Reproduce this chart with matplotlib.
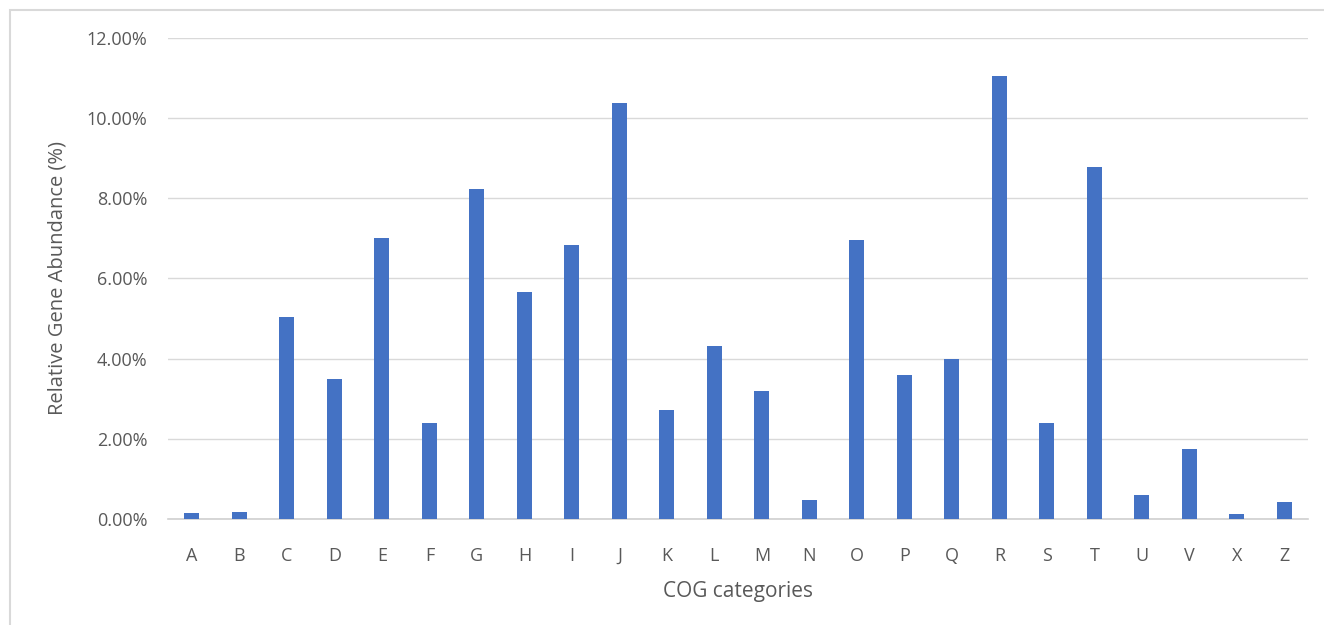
import numpy as np
import matplotlib.pyplot as plt
from matplotlib.patches import Rectangle
from matplotlib.ticker import FuncFormatter

categories = ['A', 'B', 'C', 'D', 'E', 'F', 'G', 'H', 'I', 'J', 'K', 'L',
              'M', 'N', 'O', 'P', 'Q', 'R', 'S', 'T', 'U', 'V', 'X', 'Z']
abundance = [0.15, 0.18, 5.04, 3.49, 7.01, 2.40, 8.23, 5.66, 6.84, 10.38, 2.72, 4.32,
             3.19, 0.47, 6.96, 3.59, 3.99, 11.06, 2.40, 8.78, 0.60, 1.75, 0.13, 0.41]
yticks = [0, 2, 4, 6, 8, 10, 12]

plt.rcParams['font.family'] = ['Open Sans', 'DejaVu Sans']

fig = plt.figure(figsize=(13.24, 6.25), dpi=100)
ax = fig.add_axes([0.127, 0.170, 0.861, 0.769])

x = np.arange(len(categories))
ax.bar(x, abundance, width=0.32, color='#4472c4', zorder=3)

ax.set_xlim(-0.5, len(categories) - 0.5)
ax.set_ylim(0, 12)
ax.set_yticks(yticks)
ax.yaxis.set_major_formatter(FuncFormatter(lambda v, p: '%.2f%%' % v))
ax.set_xticks(x)
ax.set_xticklabels(categories)
ax.grid(axis='y', color='#d9d9d9', linewidth=1, zorder=0)

for s in ['top', 'right', 'left']:
    ax.spines[s].set_visible(False)
ax.spines['bottom'].set_color('#d0d0d0')
ax.spines['bottom'].set_linewidth(1.2)
ax.tick_params(length=0, labelsize=13, colors='#595959')
ax.tick_params(axis='y', pad=15)
ax.tick_params(axis='x', pad=20)

ax.set_xlabel('COG categories', fontsize=15, color='#595959', labelpad=12)
ax.set_ylabel('Relative Gene Abundance (%)', fontsize=14.5, color='#595959', labelpad=14)

# light frame, only left and top edges fall inside the picture
fig.patches.append(Rectangle((10 / 1324, -0.05), 1.1, 1 - 10 / 625 + 0.05,
                             transform=fig.transFigure, fill=False,
                             edgecolor='#d9d9d9', linewidth=1.5))

fig.savefig('out.png', dpi=100)
